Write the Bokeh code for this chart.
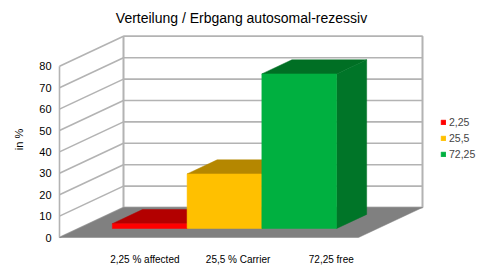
from bokeh.plotting import figure
from bokeh.models import Range1d, Label, Legend, LegendItem
from bokeh.core.properties import value
from bokeh.embed import file_html
from bokeh.resources import INLINE
import math

# ---- data ----
categories = ["2,25 % affected", "25,5 % Carrier", "72,25 free"]
values = [2.25, 25.5, 72.25]
series_names = [str(v).replace(".", ",") for v in values]
y_ticks = [0, 10, 20, 30, 40, 50, 60, 70, 80]
title_text = "Verteilung / Erbgang autosomal-rezessiv"
y_title = "in %"

front_colors = ["#ff0000", "#ffc000", "#00b040"]
top_colors = ["#b30000", "#b58700", "#006f24"]
side_colors = ["#a00000", "#a07800", "#007528"]

# ---- layout (pixel geometry of the pseudo-3D box) ----
W, H = 481, 280
X0_PX, XU_PX = 59.0, 74.75      # front-left corner, px per category unit
Y0_PX, YU_PX = 237.0, 2.14      # front zero line, px per value unit
DEPTH_DX = 64.0 / XU_PX         # full depth in x units
DEPTH_DY = 30.0 / YU_PX         # full depth in value units
BAR_F0, BAR_F1 = 0.30, 0.77     # bar depth extent (fraction of depth)
BAR_OFFSET, BAR_WIDTH = 0.45, 1.0
GRID = "#b3b3b3"
FONT = "Liberation Sans"


def px2x(px):
    return (px - X0_PX) / XU_PX


def py2v(py):
    return (Y0_PX - py) / YU_PX


p = figure(width=W, height=H,
           x_range=Range1d(px2x(0), px2x(W)),
           y_range=Range1d(py2v(H), py2v(0)),
           output_backend="svg", toolbar_location=None,
           x_axis_location=None, y_axis_location=None, min_border=0)
p.outline_line_color = None
p.grid.grid_line_color = None
p.background_fill_color = "white"
p.border_fill_color = "white"

n = len(categories)
front_w = n + 1
ymax = y_ticks[-1]

# back wall
bx0, bx1 = DEPTH_DX, front_w + DEPTH_DX
p.patch([bx0, bx1, bx1, bx0], [DEPTH_DY, DEPTH_DY, ymax + DEPTH_DY, ymax + DEPTH_DY],
        fill_color="white", line_color=GRID, line_width=1.6)
# back gridlines and left-wall gridlines
p.multi_line(xs=[[bx0, bx1] for t in y_ticks], ys=[[t + DEPTH_DY, t + DEPTH_DY] for t in y_ticks],
             line_color=GRID, line_width=1.6)
p.multi_line(xs=[[0, DEPTH_DX] for t in y_ticks], ys=[[t, t + DEPTH_DY] for t in y_ticks],
             line_color=GRID, line_width=1.6)
p.multi_line(xs=[[0, 0], [bx0, bx0], [bx1, bx1]],
             ys=[[0, ymax], [DEPTH_DY, ymax + DEPTH_DY], [DEPTH_DY, ymax + DEPTH_DY]],
             line_color=GRID, line_width=1.6)

# floor
p.patch([0, front_w, front_w + DEPTH_DX, DEPTH_DX], [0, 0, DEPTH_DY, DEPTH_DY],
        fill_color="#808080", line_color="#808080", line_width=0.5)

# bars
ax0, ay0 = BAR_F0 * DEPTH_DX, BAR_F0 * DEPTH_DY
ax1, ay1 = BAR_F1 * DEPTH_DX, BAR_F1 * DEPTH_DY
legend_items = []
for i, v in enumerate(values):
    x0 = i + BAR_OFFSET
    x1 = x0 + BAR_WIDTH
    top_x = [x0 + ax0, x1 + ax0, x1 + ax1, x0 + ax1]
    top_y = [v + ay0, v + ay0, v + ay1, v + ay1]
    side_x = [x1 + ax0, x1 + ax1, x1 + ax1, x1 + ax0]
    side_y = [ay0, ay1, v + ay1, v + ay0]
    p.patches(xs=[top_x, side_x], ys=[top_y, side_y],
              fill_color=[top_colors[i], side_colors[i]],
              line_color=[top_colors[i], side_colors[i]], line_width=0.5)
    fr = p.patch([x0 + ax0, x1 + ax0, x1 + ax0, x0 + ax0], [ay0, ay0, v + ay0, v + ay0],
                 fill_color=front_colors[i], line_color=front_colors[i], line_width=0.5)
    legend_items.append(LegendItem(label=series_names[i], renderers=[fr]))

# y tick labels
p.text(x=[px2x(51)] * len(y_ticks), y=y_ticks, text=[str(t) for t in y_ticks],
       text_align="right", text_baseline="middle", text_font=value(FONT),
       text_font_size="11px", text_color="#000000")

# category labels
LABEL_X0, LABEL_STEP = 1.142, 1.247
p.text(x=[LABEL_X0 + LABEL_STEP * i for i in range(n)], y=[py2v(259)] * n, text=categories,
       text_align="center", text_baseline="middle", text_font=value(FONT),
       text_font_size="10px", text_color="#000000")

# title and y axis title
p.add_layout(Label(x=241, y=H - 17, x_units="screen", y_units="screen", text=title_text,
                   text_align="center", text_baseline="middle", text_font=FONT,
                   text_font_size="14px", text_color="#000000"))
p.add_layout(Label(x=18, y=H - 139, x_units="screen", y_units="screen", text=y_title,
                   angle=math.pi / 2, text_align="center", text_baseline="middle",
                   text_font=FONT, text_font_size="11px", text_color="#000000"))

legend = Legend(items=legend_items, location=(440, 120), padding=0, margin=0,
                spacing=4, glyph_width=6, glyph_height=6, label_height=6,
                label_standoff=3, label_text_font=FONT, label_text_font_size="10.5px",
                border_line_color=None, background_fill_alpha=0)
p.add_layout(legend)

open("out.html", "w").write(file_html(p, INLINE))
